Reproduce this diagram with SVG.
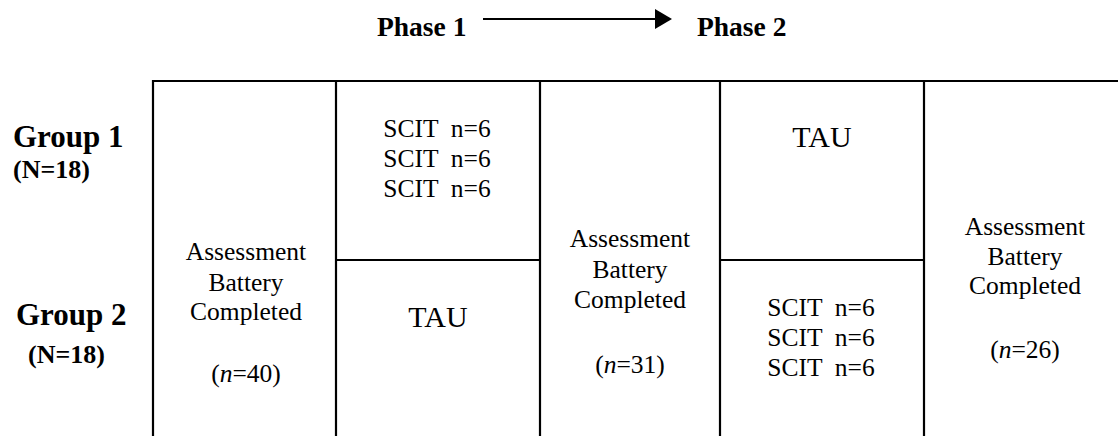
<svg xmlns="http://www.w3.org/2000/svg" width="1118" height="436" viewBox="0 0 1118 436">
<style>
text{font-family:"Liberation Serif","Tinos","Times New Roman","Nimbus Roman","DejaVu Serif",serif;fill:#000}
.ph{font-size:27.5px;font-weight:bold}
.grp{font-size:31px;font-weight:bold}
.n{font-size:26px;font-weight:bold}
.t{font-size:25.5px;font-weight:normal;text-anchor:middle}
.tau{font-size:30px;font-weight:normal;text-anchor:middle}
.ln{stroke:#000;stroke-width:2.2;fill:none}
</style>
<rect width="1118" height="436" fill="#fff"/>
<g id="connectors">
<line x1="483" y1="19" x2="657" y2="19" stroke="#000" stroke-width="2"/>
<path d="M655,9 L672,19 L655,29 Z" fill="#000"/>
</g>
<g id="grid">
<line class="ln" x1="153" y1="81" x2="1118" y2="81"/>
<line class="ln" x1="153" y1="80" x2="153" y2="436"/>
<line class="ln" x1="336" y1="80" x2="336" y2="436"/>
<line class="ln" x1="540" y1="80" x2="540" y2="436"/>
<line class="ln" x1="720" y1="80" x2="720" y2="436"/>
<line class="ln" x1="924" y1="80" x2="924" y2="436"/>
<line class="ln" x1="336" y1="260" x2="540" y2="260"/>
<line class="ln" x1="720" y1="260" x2="924" y2="260"/>
</g>
<g id="phase1"><text class="ph" x="377" y="36">Phase 1</text></g>
<g id="phase2"><text class="ph" x="697" y="36">Phase 2</text></g>
<g id="group1">
<text class="grp" x="13" y="147">Group 1</text>
<text class="n" x="13" y="178">(N=18)</text>
</g>
<g id="group2">
<text class="grp" x="16" y="325">Group 2</text>
<text class="n" x="28" y="363">(N=18)</text>
</g>
<g id="assess1">
<text class="t" x="246" y="260">Assessment</text>
<text class="t" x="246" y="291">Battery</text>
<text class="t" x="246" y="320">Completed</text>
<text class="t" x="246" y="382">(<tspan font-style="italic">n</tspan>=40)</text>
</g>
<g id="g1p1">
<text class="t" x="437" y="137" xml:space="preserve">SCIT  n=6</text>
<text class="t" x="437" y="167" xml:space="preserve">SCIT  n=6</text>
<text class="t" x="437" y="197" xml:space="preserve">SCIT  n=6</text>
</g>
<g id="g2p1"><text class="tau" x="438" y="327">TAU</text></g>
<g id="assess2">
<text class="t" x="630" y="247">Assessment</text>
<text class="t" x="630" y="278">Battery</text>
<text class="t" x="630" y="308">Completed</text>
<text class="t" x="630" y="373">(<tspan font-style="italic">n</tspan>=31)</text>
</g>
<g id="g1p2"><text class="tau" x="822" y="147">TAU</text></g>
<g id="g2p2">
<text class="t" x="821" y="316" xml:space="preserve">SCIT  n=6</text>
<text class="t" x="821" y="346" xml:space="preserve">SCIT  n=6</text>
<text class="t" x="821" y="376" xml:space="preserve">SCIT  n=6</text>
</g>
<g id="assess3">
<text class="t" x="1025" y="235">Assessment</text>
<text class="t" x="1025" y="265">Battery</text>
<text class="t" x="1025" y="294">Completed</text>
<text class="t" x="1025" y="358">(<tspan font-style="italic">n</tspan>=26)</text>
</g>
</svg>
